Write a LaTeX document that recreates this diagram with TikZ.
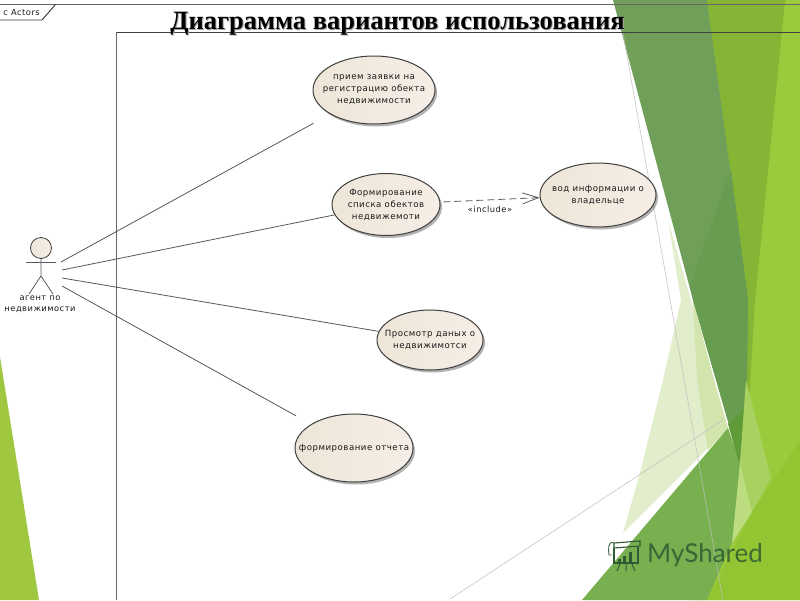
\documentclass[tikz,border=0pt]{standalone}
\usepackage{fontspec}
\setmainfont{Liberation Serif}
\newfontfamily\diagfont[LetterSpace=6]{DejaVu Sans}
\newfontfamily\logofont{Lato}
\usetikzlibrary{shapes.geometric,arrows.meta,shadows}
\definecolor{dkband}{HTML}{6F9F58}
\definecolor{dkbandb}{HTML}{689C50}
\definecolor{midband}{HTML}{86B535}
\definecolor{ltband}{HTML}{9BCA3D}
\definecolor{medtri}{HTML}{78B04F}
\definecolor{pale}{HTML}{E1EDCB}
\definecolor{pale2}{HTML}{D2E5AD}
\definecolor{logoc}{HTML}{2F5A33}
\definecolor{darktri}{HTML}{5F9B36}
\definecolor{lighttri}{HTML}{A8D162}
\definecolor{lighttrib}{HTML}{BBDD80}
\definecolor{brightgr}{HTML}{93C532}
\definecolor{lefttri}{HTML}{9FC840}
\definecolor{caseL}{HTML}{EDE6D8}
\definecolor{caseR}{HTML}{F6EEE6}
\tikzset{
  usecase/.style={ellipse,draw=black!75,line width=1pt,inner sep=0pt,
    left color=caseL,right color=caseR,
    drop shadow={shadow xshift=2pt,shadow yshift=-2.5pt,opacity=.3,fill=black}},
  casetext/.style={text=black!90,font=\diagfont\fontsize{8.6}{12}\selectfont,align=center,inner sep=0pt},
  assoc/.style={draw=black!65,line width=0.8pt},
  frameline/.style={draw=black!60,line width=0.9pt},
  faintline/.style={draw=black!25,line width=0.5pt},
  smalltext/.style={text=black!90,font=\diagfont\fontsize{8.3}{11}\selectfont,align=center,inner sep=0pt}
}
\begin{document}
\begin{tikzpicture}[x=1pt,y=-1pt]
\useasboundingbox (0,0) rectangle (800,600);
\clip (0,0) rectangle (800,600);
% background
\fill[white] (0,0) rectangle (800,600);
\fill[ltband] (700,0) -- (800,0) -- (800,600) -- (690,600) -- (740,460) -- cycle;
\fill[midband] (707,0) -- (785,0) -- (755,300) -- (745,470) -- (748,300) -- cycle;
\fill[pale] (668,220) -- (714,380) -- (728,428) -- (623,533) -- (640,473) -- (663,380) -- (681,300) -- cycle;
\fill[pale2] (693,300) -- (714,380) -- (728,428) -- (708,450) -- (697,380) -- cycle;
\fill[dkband] (613,0) -- (707,0) -- (748,300) -- (747,380) -- (740,463) -- (693,300) -- cycle;
\fill[dkbandb] (731,170) -- (748,300) -- (747,380) -- (740,463) -- (693,300) -- (690,285) -- cycle;
\fill[medtri] (582,600) -- (728,428) -- (740,463) -- (733,540) -- (707,600) -- cycle;
\fill[darktri] (728,424) -- (745,408) -- (739,463) -- cycle;
\fill[lighttri] (746,380) -- (771,478) -- (752,512) -- (740,463) -- cycle;
\fill[lighttrib] (740,463) -- (752,512) -- (732,543) -- cycle;
\fill[brightgr] (707,600) -- (752,512) -- (800,440) -- (800,600) -- cycle;
\fill[lefttri] (0,357) -- (39,600) -- (0,600) -- cycle;
% faint lines
\draw[faintline] (623,33) -- (723,600);
\draw[faintline] (450,599) -- (723,420);
% frame
\draw[frameline] (0,4) -- (800,4);
\draw[frameline,draw=black!75] (116.5,32) -- (800,32);
\draw[frameline] (116.5,32) -- (116.5,600);
\draw[black!80,line width=0.9pt] (-2,20) -- (42,20) -- (55.5,4.5);
\node[smalltext,anchor=east] (tab) at (40,12.5) {c Actors};
% title
\node[text=black!35,font=\bfseries\fontsize{26.5}{26.5}\selectfont,inner sep=0pt] (titleshadow) at (398.5,25) {Диаграмма вариантов использования};
\node[text=black,font=\bfseries\fontsize{26.5}{26.5}\selectfont,inner sep=0pt] (title) at (397.5,24) {Диаграмма вариантов использования};
% actor
\node[circle,draw=black!75,line width=0.8pt,inner sep=0pt,minimum size=21pt,
  left color=caseL,right color=caseR] (head) at (41,248) {};
\coordinate (hip) at (41,276);
\coordinate (footl) at (29,294);
\coordinate (footr) at (53,294);
\coordinate (arml) at (26,262);
\coordinate (armr) at (56,262);
\draw[assoc] (head.south) -- (hip) -- (footl);
\draw[assoc] (hip) -- (footr);
\draw[assoc] (arml) -- (armr);
\node[smalltext] (actorname) at (40,304.5) {агент по\\недвижимости};
% use cases
\node[usecase,minimum width=122pt,minimum height=68pt] (u1) at (374,90) {};
\node[casetext] (t1) at (u1) {прием заявки на\\регистрацию обекта\\недвижимости};
\node[usecase,minimum width=108pt,minimum height=62pt] (u2) at (386,204.5) {};
\node[casetext] (t2) at (u2) {Формирование\\списка обектов\\недвижемоти};
\node[usecase,minimum width=116pt,minimum height=64pt] (u3) at (598,195) {};
\node[casetext] (t3) at (u3) {вод информации о\\владельце};
\node[usecase,minimum width=106pt,minimum height=60pt] (u4) at (430,340) {};
\node[casetext] (t4) at (u4) {Просмотр даных о\\недвижимотси};
\node[usecase,minimum width=118pt,minimum height=68pt] (u5) at (354,448) {};
\node[casetext] (t5) at (u5) {формирование отчета};
% connectors
\coordinate (a1) at (61,262);
\coordinate (a2) at (62,270);
\coordinate (a3) at (62,278);
\coordinate (a4) at (62,286);
\draw[assoc,shorten >=19pt] (a1) -- (u1);
\draw[assoc] (a2) -- (u2);
\draw[assoc] (a3) -- (u4);
\draw[assoc,shorten >=17pt] (a4) -- (u5);
\draw[assoc,dash pattern=on 7pt off 4pt,shorten <=3pt,-{Straight Barb[length=16pt,width=11pt,line width=0.8pt]}] (u2) -- (u3);
\node[smalltext] (incl) at (490,209) {«include»};
% logo
\draw[logoc,line width=1.1pt] (614,543) -- (640,541) -- (640,546) -- (614,548) -- cycle;
\draw[logoc!70!gray,line width=0.9pt] (614,543) .. controls (608,540) and (608,550) .. (609,555) -- (612,555);
\draw[logoc,line width=1.1pt] (614,548) -- (614,563) -- (638,563) -- (638,547);
\foreach \xx/\yy in {619/559,624/556,630/552}{\fill[logoc] (\xx-1.5,\yy) rectangle (\xx+1.5,562);}
\draw[logoc,line width=1pt] (620,564) -- (617,571) (626,564) -- (626,571) (632,564) -- (635,571);
\node[text=logoc,opacity=.85,font=\logofont\fontsize{26}{26}\selectfont,inner sep=0pt,anchor=west] (logo) at (647,555) {MyShared};
\end{tikzpicture}
\end{document}
